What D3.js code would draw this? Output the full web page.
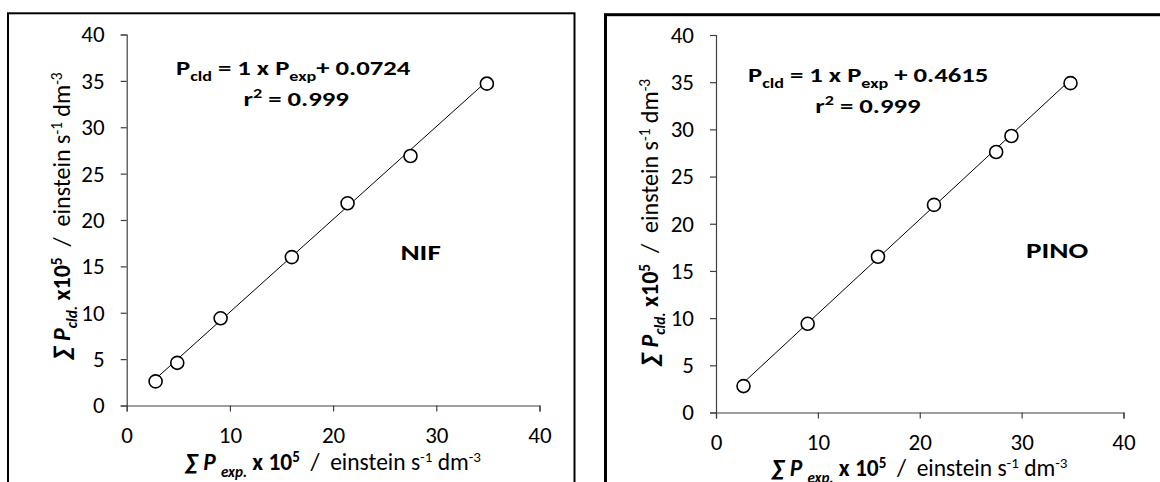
<!DOCTYPE html>
<html>
<head>
<meta charset="utf-8">
<script src="https://cdn.jsdelivr.net/npm/d3@7"></script>
<style>
  html, body { margin: 0; padding: 0; background: #fff; }
  svg { display: block; }
  text { font-family: Carlito, Lato, "Liberation Sans", sans-serif; fill: #000; white-space: pre; }
</style>
</head>
<body>
<svg id="chart" width="1160" height="482"></svg>
<script>
// Calculated vs experimental photon absorption rate (x 10^5, einstein s-1 dm-3)
const nifExp  = [2.8, 4.9, 9.1, 16.0, 21.4, 27.5, 34.9];
const nifCld  = [2.6, 4.6, 9.4, 16.0, 21.8, 26.9, 34.7];
const pinoExp = [2.7, 9.0, 15.9, 21.4, 27.5, 29.0, 34.8];
const pinoCld = [2.8, 9.4, 16.5, 22.0, 27.6, 29.3, 34.9];

// Linear fits: P_cld = slope x P_exp + intercept
const fitSlopes     = [1, 1];
const fitIntercepts = [0.0724, 0.4615];
const fitR2         = ["0.999", "0.999"];
const compoundNames = ["NIF", "PINO"];

const xTickValues = [0, 10, 20, 30, 40];
const yTickValues = [0, 5, 10, 15, 20, 25, 30, 35, 40];
const axisDomain  = [0, 40];

const svg = d3.select("#chart");

// Writes a run of styled segments into one <text>; sub/sup segments shift the baseline.
function richText(sel, segs, baseSize, scriptRatio, supRaise) {
  const sr = scriptRatio || 0.66;
  const up = supRaise || 0.40;
  let offset = 0;
  segs.forEach(s => {
    const target = s.sh === "sub" ? 0.28 * baseSize : s.sh === "sup" ? -up * baseSize : 0;
    sel.append("tspan")
      .attr("dy", (target - offset).toFixed(2))
      .style("font-size", (s.sh ? sr * baseSize : baseSize) + "px")
      .style("font-weight", s.b ? "bold" : "normal")
      .style("font-style", s.i ? "italic" : "normal")
      .text(s.t);
    offset = target;
  });
}

// Text boxes inside the plot (equation, compound name) are drawn slightly widened.
const boxStretch = 1.27;

const panels = [
  {
    exp: nifExp, cld: nifCld, k: 0,
    frame: { x: 8, y: 13.3, w: 566.5, h: 520, sw: 2 },
    xr: [126.7, 539.5], yr: [405.5, 34.5],
    eq: [176, 75], eqPlus: "+ ", r2: [243.5, 106],
    name: [400.4, 260], yTitle: [70, 216], xTitle: [333, 470]
  },
  {
    exp: pinoExp, cld: pinoCld, k: 1,
    frame: { x: 605.5, y: 14.7, w: 600, h: 520, sw: 3 },
    xr: [716, 1123.5], yr: [412.5, 35],
    eq: [748, 81.7], eqPlus: " + ", r2: [815.3, 113],
    name: [1026, 258], yTitle: [658, 222.5], xTitle: [919.5, 476]
  }
];

panels.forEach(p => {
  const g = svg.append("g");
  const x = d3.scaleLinear().domain(axisDomain).range(p.xr);
  const y = d3.scaleLinear().domain(axisDomain).range(p.yr);

  // outer frame
  g.append("rect")
    .attr("x", p.frame.x).attr("y", p.frame.y)
    .attr("width", p.frame.w).attr("height", p.frame.h)
    .attr("fill", "none").attr("stroke", "#000").attr("stroke-width", p.frame.sw);

  // axes
  const xAxis = g.append("g")
    .attr("transform", `translate(0,${p.yr[0]})`)
    .call(d3.axisBottom(x).tickValues(xTickValues).tickSizeOuter(0).tickSize(6).tickPadding(15));
  const yAxis = g.append("g")
    .attr("transform", `translate(${p.xr[0]},0)`)
    .call(d3.axisLeft(y).tickValues(yTickValues).tickSizeOuter(0).tickSize(6).tickPadding(16));
  [xAxis, yAxis].forEach(a => {
    a.select(".domain").attr("stroke", "#404040").attr("stroke-width", 1.2);
    a.selectAll(".tick line").attr("stroke", "#404040").attr("stroke-width", 1.2);
    a.selectAll(".tick text")
      .style("font-family", "Carlito, Lato, sans-serif")
      .style("font-size", "23px").attr("fill", "#000");
  });

  // fitted line across the data range
  const xs = d3.extent(p.exp);
  const fitLine = d3.line().x(d => x(d)).y(d => y(fitSlopes[p.k] * d + fitIntercepts[p.k]));
  g.append("path").datum(xs)
    .attr("d", fitLine).attr("fill", "none").attr("stroke", "#000").attr("stroke-width", 1);

  // data points
  g.selectAll("circle.pt").data(p.exp.map((v, i) => [v, p.cld[i]]))
    .join("circle").attr("class", "pt")
    .attr("cx", d => x(d[0])).attr("cy", d => y(d[1])).attr("r", 6.5)
    .attr("fill", "#fff").attr("stroke", "#000").attr("stroke-width", 1.6);

  // regression equation
  const eq = g.append("text")
    .attr("transform", `translate(${p.eq[0]},${p.eq[1]}) scale(${boxStretch},1)`);
  richText(eq, [
    { t: "P", b: 1 }, { t: "cld", b: 1, sh: "sub" },
    { t: " = 1 x P", b: 1 }, { t: "exp", b: 1, sh: "sub" },
    { t: p.eqPlus + fitIntercepts[p.k], b: 1 }
  ], 21, 0.68);
  const r2 = g.append("text")
    .attr("transform", `translate(${p.r2[0]},${p.r2[1]}) scale(${boxStretch},1)`);
  richText(r2, [
    { t: "r", b: 1 }, { t: "2", b: 1, sh: "sup" }, { t: " = " + fitR2[p.k], b: 1 }
  ], 21, 0.68);

  // compound name
  g.append("text")
    .attr("transform", `translate(${p.name[0]},${p.name[1]}) scale(${boxStretch},1)`)
    .style("font-size", "23px").style("font-weight", "bold")
    .text(compoundNames[p.k]);

  // axis titles
  const yt = g.append("text")
    .attr("transform", `translate(${p.yTitle[0]},${p.yTitle[1]}) rotate(-90)`)
    .attr("text-anchor", "middle");
  richText(yt, [
    { t: "\u2211 P", b: 1, i: 1 }, { t: "cld.", b: 1, i: 1, sh: "sub" },
    { t: " x10", b: 1 }, { t: "5", b: 1, sh: "sup" },
    { t: "  /  einstein s" }, { t: "-1", sh: "sup" }, { t: " dm" }, { t: "-3", sh: "sup" }
  ], 24, 0.64, 0.34);

  const xt = g.append("text")
    .attr("x", p.xTitle[0]).attr("y", p.xTitle[1])
    .attr("text-anchor", "middle");
  richText(xt, [
    { t: "\u2211 P ", b: 1, i: 1 }, { t: "exp.", b: 1, i: 1, sh: "sub" },
    { t: " x 10", b: 1 }, { t: "5", b: 1, sh: "sup" },
    { t: "  /  einstein s" }, { t: "-1", sh: "sup" }, { t: " dm" }, { t: "-3", sh: "sup" }
  ], 23.5, 0.64, 0.34);
});
</script>
</body>
</html>
